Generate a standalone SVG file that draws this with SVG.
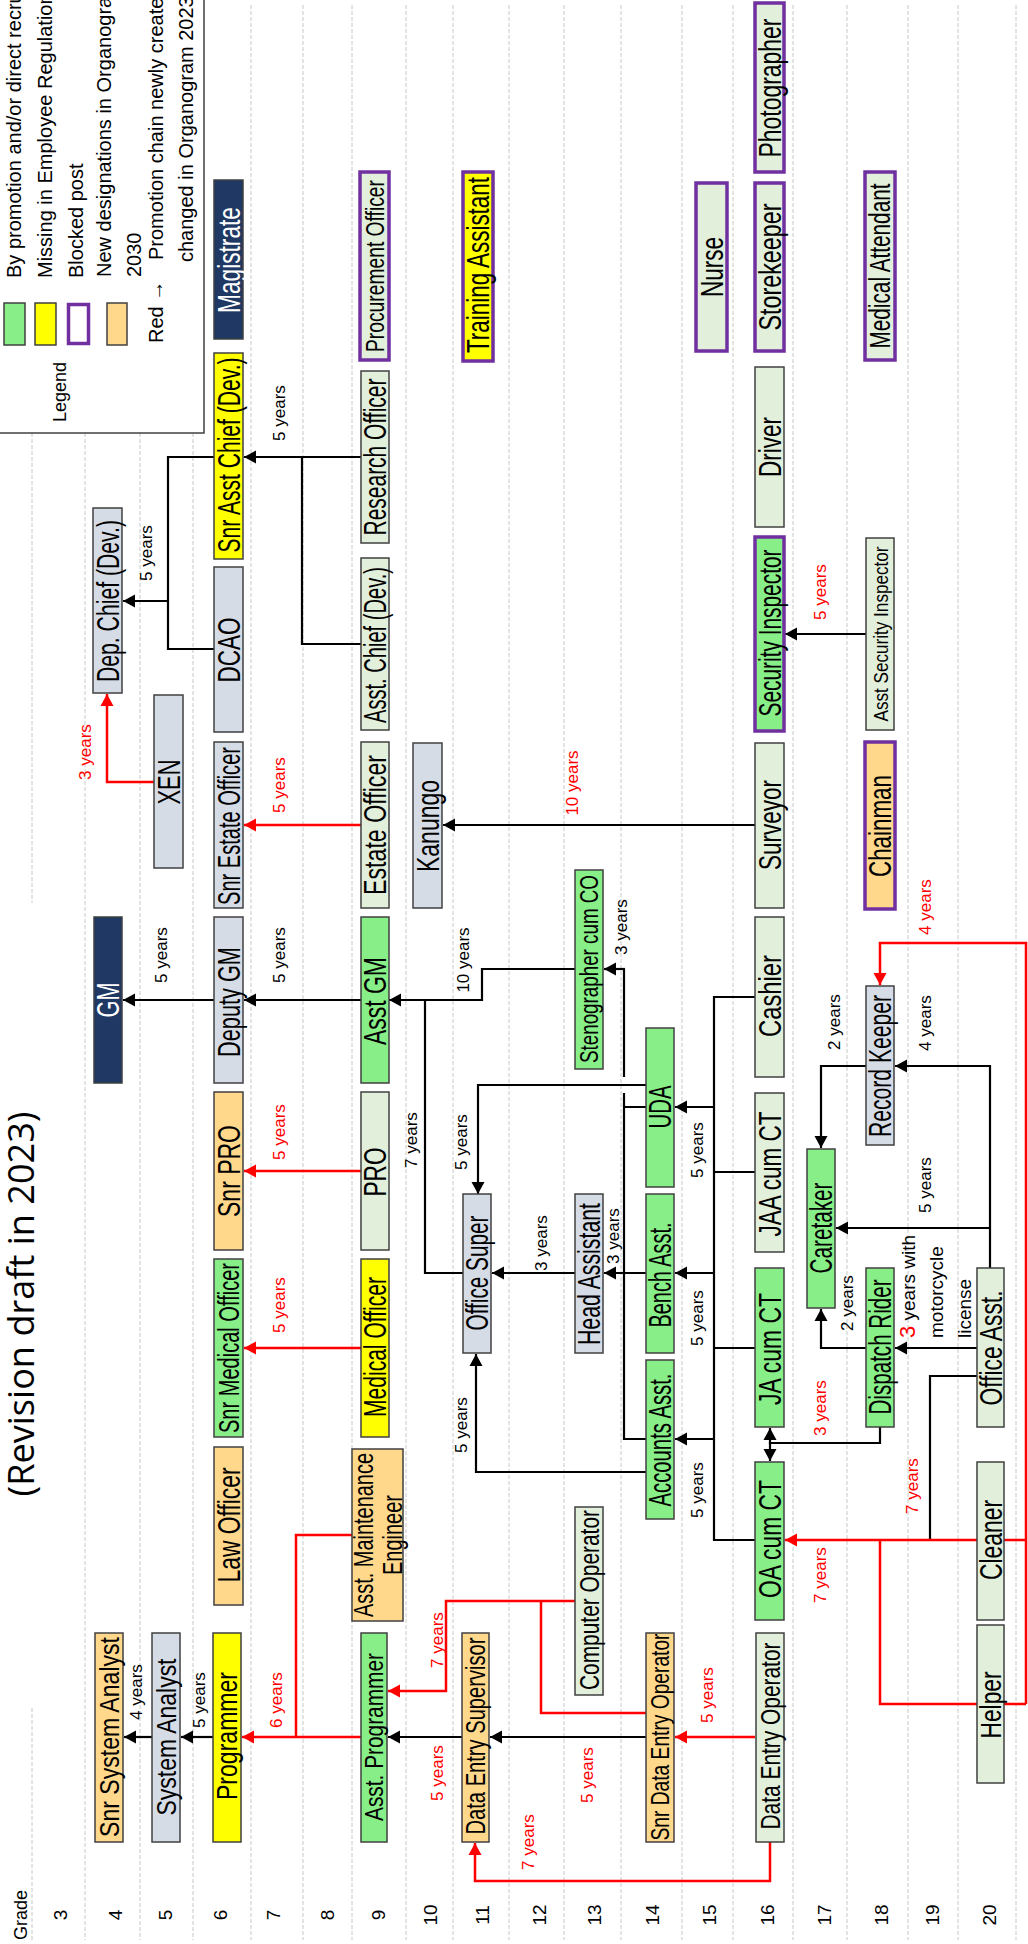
<svg xmlns="http://www.w3.org/2000/svg" width="1028" height="1944" viewBox="0 0 1028 1944">
<defs>
<marker id="ak" viewBox="0 0 12 13" refX="12" refY="6.5" markerWidth="12.5" markerHeight="13.5" markerUnits="userSpaceOnUse" orient="auto"><path d="M0,0 L12,6.5 L0,13 z" fill="#000"/></marker>
<marker id="ar" viewBox="0 0 12 13" refX="12" refY="6.5" markerWidth="12.5" markerHeight="13.5" markerUnits="userSpaceOnUse" orient="auto"><path d="M0,0 L12,6.5 L0,13 z" fill="#f00"/></marker>
</defs>
<style>
.grid{stroke:#c8c8c8;stroke-width:1;stroke-dasharray:4 2;fill:none}
.box{stroke:#404040;stroke-width:1.5}
.pb{stroke:#7030A0;stroke-width:3.5}
.g{fill:#88EE88}.lg{fill:#E2EFDA}.bg{fill:#D6DCE5}.y{fill:#FFFF00}.o{fill:#FFD88C}.n{fill:#203864}
.t{font-family:'Liberation Sans',Arial,sans-serif;fill:#000}
.w{fill:#fff}
.k{stroke:#000;stroke-width:2.2;fill:none}
.r{stroke:#f00;stroke-width:2.5;fill:none}
.ka{marker-end:url(#ak)}
.ra{marker-end:url(#ar)}
.yl{font-family:'Liberation Sans',Arial,sans-serif;font-size:17px;text-anchor:middle;fill:#000}
.red{fill:#f00}
.lgt{font-family:'Liberation Sans',Arial,sans-serif;font-size:20px;fill:#000}
</style>
<rect x="0" y="0" width="1028" height="1944" fill="#fff"/>
<g id="grid">
<path class="grid" d="M32,433V903M32,1708V1940M85,433V1940M140,433V1940M193,433V1940M251,5V1940M303,5V1940M352,5V1940M406,5V1940M453,5V1940M509,5V1940M564,5V1940M621,5V1940M682,5V1940M733,5V1940M793,5V1940M847,5V1940M908,5V1940M958,5V1940M1016,5V1940"/>
</g>
<g id="title">
<text class="t" style="font-family:'Open Sans',sans-serif" font-size="36" textLength="385" lengthAdjust="spacingAndGlyphs" x="-192.5" transform="translate(34,1304) rotate(-90)">(Revision draft in 2023)</text>
</g>
<g id="grades" class="t" font-size="19">
<text x="-25" transform="translate(27,1915) rotate(-90)" textLength="50" lengthAdjust="spacingAndGlyphs">Grade</text>
<g text-anchor="middle">
<text transform="translate(67,1915) rotate(-90)">3</text>
<text transform="translate(122,1915) rotate(-90)">4</text>
<text transform="translate(172,1915) rotate(-90)">5</text>
<text transform="translate(227,1915) rotate(-90)">6</text>
<text transform="translate(280,1915) rotate(-90)">7</text>
<text transform="translate(334,1915) rotate(-90)">8</text>
<text transform="translate(385,1915) rotate(-90)">9</text>
<text transform="translate(437,1915) rotate(-90)">10</text>
<text transform="translate(489,1915) rotate(-90)">11</text>
<text transform="translate(546,1915) rotate(-90)">12</text>
<text transform="translate(601,1915) rotate(-90)">13</text>
<text transform="translate(659,1915) rotate(-90)">14</text>
<text transform="translate(716,1915) rotate(-90)">15</text>
<text transform="translate(774,1915) rotate(-90)">16</text>
<text transform="translate(831,1915) rotate(-90)">17</text>
<text transform="translate(888,1915) rotate(-90)">18</text>
<text transform="translate(939,1915) rotate(-90)">19</text>
<text transform="translate(996,1915) rotate(-90)">20</text>
</g>
</g>
<g id="legend">
<rect x="-5" y="-5" width="209" height="438" fill="#fff" stroke="#404040" stroke-width="1.5"/>
<rect class="box g" x="4" y="303" width="21" height="42"/>
<rect class="box y" x="35" y="303" width="21" height="42"/>
<rect x="68.5" y="304.5" width="20" height="39" fill="#fff" stroke="#7030A0" stroke-width="3.5"/>
<rect class="box o" x="107" y="303" width="20" height="42"/>
<text class="lgt" transform="translate(21,278) rotate(-90)">By promotion and/or direct recruitment</text>
<text class="lgt" transform="translate(52,278) rotate(-90)">Missing in Employee Regulations</text>
<text class="lgt" transform="translate(82.5,278) rotate(-90)">Blocked post</text>
<text class="lgt" transform="translate(111,277) rotate(-90)">New designations in Organogram</text>
<text class="lgt" transform="translate(141,277) rotate(-90)">2030</text>
<text class="lgt red" transform="translate(163,343) rotate(-90)">Red →</text>
<text class="lgt" transform="translate(163,260) rotate(-90)">Promotion chain newly created</text>
<text class="lgt" transform="translate(193,262) rotate(-90)">changed in Organogram 2023</text>
<text class="t" font-size="18" text-anchor="middle" transform="translate(66,392) rotate(-90)">Legend</text>
</g>
<g id="connectors">
<path class="k" d="M214,457H168V649H214"/>
<path class="k ka" d="M168,601H123"/>
<path class="k ka" d="M361,457H244"/>
<path class="k" d="M302,457V644H361"/>
<path class="k ka" d="M755,825H443"/>
<path class="k ka" d="M866,634H785"/>
<path class="k ka" d="M214,1000H123"/>
<path class="k ka" d="M361,1000H244"/>
<path class="k ka" d="M575,969H482V1000H389"/>
<path class="k" d="M463,1273H425V1000"/>
<path class="k ka" d="M646,1085H478V1194"/>
<path class="k ka" d="M575,1273H492"/>
<path class="k ka" d="M646,1273H604"/>
<path class="k ka" d="M646,1472H476V1354"/>
<path class="k" d="M646,1107H624M646,1439H624V1093M624,1077V969"/>
<path class="k ka" d="M625,969H604"/>
<path class="k" d="M755,997H714V1540H755M755,1172H714M755,1348H714"/>
<path class="k ka" d="M714,1107H675"/>
<path class="k ka" d="M714,1273H675"/>
<path class="k ka" d="M714,1439H675"/>
<path class="k ka" d="M866,1066H821V1148"/>
<path class="k ka" d="M990,1268V1066H895"/>
<path class="k ka" d="M990,1228H836"/>
<path class="k ka" d="M866,1348H821V1309"/>
<path class="k ka" d="M977,1348H895"/>
<path class="k" d="M977,1376H930V1540"/>
<path class="k" d="M880,1427V1443H770"/>
<path class="k ka" d="M770,1444V1428"/>
<path class="k ka" d="M770,1442V1461"/>
<path class="k ka" d="M646,1737H490"/>
<path class="k ka" d="M462,1737H388"/>
<path class="k ka" d="M213,1737H181"/>
<path class="k ka" d="M152,1737H124"/>
<path class="r ra" d="M154,782H107V694"/>
<path class="r ra" d="M361,825H244"/>
<path class="r ra" d="M361,1171H244"/>
<path class="r ra" d="M361,1348H244"/>
<path class="r" d="M352,1535H296V1737"/>
<path class="r ra" d="M361,1737H242"/>
<path class="r ra" d="M575,1601H446V1691H388"/>
<path class="r" d="M646,1713H541V1601"/>
<path class="r ra" d="M755,1737H675"/>
<path class="r ra" d="M770,1842V1881H475V1843"/>
<path class="r ra" d="M977,1540H785"/>
<path class="r" d="M977,1704H880V1540"/>
<path class="r" d="M1004,1540H1026M1004,1704H1026"/>
<path class="r ra" d="M1026,1704V943H880V985"/>
</g>
<g id="connector-labels">
<text class="yl" transform="translate(152.3,553) rotate(-90)">5 years</text>
<text class="yl" transform="translate(285.3,413) rotate(-90)">5 years</text>
<text class="yl" transform="translate(167.3,955) rotate(-90)">5 years</text>
<text class="yl" transform="translate(285.3,955) rotate(-90)">5 years</text>
<text class="yl" transform="translate(467.3,1142) rotate(-90)">5 years</text>
<text class="yl" transform="translate(467.3,1425) rotate(-90)">5 years</text>
<text class="yl" transform="translate(703.3,1150) rotate(-90)">5 years</text>
<text class="yl" transform="translate(703.3,1318) rotate(-90)">5 years</text>
<text class="yl" transform="translate(703.3,1490) rotate(-90)">5 years</text>
<text class="yl" transform="translate(931.3,1185) rotate(-90)">5 years</text>
<text class="yl" transform="translate(417.3,1140) rotate(-90)">7 years</text>
<text class="yl" transform="translate(469.3,960) rotate(-90)">10 years</text>
<text class="yl" transform="translate(547.3,1243) rotate(-90)">3 years</text>
<text class="yl" transform="translate(619.3,1236) rotate(-90)">3 years</text>
<text class="yl" transform="translate(627.3,927) rotate(-90)">3 years</text>
<text class="yl" transform="translate(840.3,1022) rotate(-90)">2 years</text>
<text class="yl" transform="translate(931.3,1023) rotate(-90)">4 years</text>
<text class="yl" transform="translate(853.3,1303) rotate(-90)">2 years</text>
<text class="yl" transform="translate(142.3,1692) rotate(-90)">4 years</text>
<text class="yl" transform="translate(205.3,1700) rotate(-90)">5 years</text>
<text class="yl red" transform="translate(91.3,752) rotate(-90)">3 years</text>
<text class="yl red" transform="translate(285.3,785) rotate(-90)">5 years</text>
<text class="yl red" transform="translate(578.3,783) rotate(-90)">10 years</text>
<text class="yl red" transform="translate(826.3,592) rotate(-90)">5 years</text>
<text class="yl red" transform="translate(931.3,907) rotate(-90)">4 years</text>
<text class="yl red" transform="translate(285.3,1132) rotate(-90)">5 years</text>
<text class="yl red" transform="translate(285.3,1305) rotate(-90)">5 years</text>
<text class="yl red" transform="translate(826.3,1408) rotate(-90)">3 years</text>
<text class="yl red" transform="translate(918.3,1486) rotate(-90)">7 years</text>
<text class="yl red" transform="translate(826.3,1575) rotate(-90)">7 years</text>
<text class="yl red" transform="translate(282.3,1700) rotate(-90)">6 years</text>
<text class="yl red" transform="translate(443.3,1640) rotate(-90)">7 years</text>
<text class="yl red" transform="translate(443.3,1773) rotate(-90)">5 years</text>
<text class="yl red" transform="translate(593.3,1775) rotate(-90)">5 years</text>
<text class="yl red" transform="translate(713.3,1695) rotate(-90)">5 years</text>
<text class="yl red" transform="translate(534.3,1842) rotate(-90)">7 years</text>
<text class="t" font-size="19" transform="translate(915,1338) rotate(-90)"><tspan fill="#f00" font-size="22">3</tspan> years with</text>
<text class="t" font-size="19" transform="translate(943,1338) rotate(-90)">motorcycle</text>
<text class="t" font-size="19" transform="translate(971,1338) rotate(-90)">license</text>
</g>
<g id="nodes" class="t">
<g id="snr-system-analyst"><rect class="box o" x="95" y="1633" width="28" height="209"/><text font-size="27" x="-100" textLength="200" lengthAdjust="spacingAndGlyphs" transform="translate(118.7,1737) rotate(-90)">Snr System Analyst</text></g>
<g id="system-analyst"><rect class="box bg" x="152" y="1633" width="28" height="209"/><text font-size="27" x="-78.5" textLength="157" lengthAdjust="spacingAndGlyphs" transform="translate(175.7,1737) rotate(-90)">System Analyst</text></g>
<g id="programmer"><rect class="box y" x="213" y="1633" width="28" height="209"/><text font-size="29" x="-64" textLength="128" lengthAdjust="spacingAndGlyphs" transform="translate(237.4,1736) rotate(-90)">Programmer</text></g>
<g id="asst-programmer"><rect class="box g" x="361" y="1633" width="26" height="209"/><text font-size="26" x="-84" textLength="168" lengthAdjust="spacingAndGlyphs" transform="translate(383.3,1737) rotate(-90)">Asst. Programmer</text></g>
<g id="data-entry-supervisor"><rect class="box o" x="462" y="1633" width="27" height="209"/><text font-size="27" x="-98.5" textLength="197" lengthAdjust="spacingAndGlyphs" transform="translate(485.2,1736) rotate(-90)">Data Entry Supervisor</text></g>
<g id="snr-data-entry-operator"><rect class="box o" x="646" y="1633" width="28" height="209"/><text font-size="26" x="-103.5" textLength="207" lengthAdjust="spacingAndGlyphs" transform="translate(669.3,1737) rotate(-90)">Snr Data Entry Operator</text></g>
<g id="data-entry-operator"><rect class="box lg" x="756" y="1633" width="28" height="209"/><text font-size="27" x="-93.5" textLength="187" lengthAdjust="spacingAndGlyphs" transform="translate(779.7,1736) rotate(-90)">Data Entry Operator</text></g>
<g id="helper"><rect class="box lg" x="977" y="1625" width="27" height="158"/><text font-size="30" x="-33.5" textLength="67" lengthAdjust="spacingAndGlyphs" transform="translate(1001.2,1705) rotate(-90)">Helper</text></g>
<g id="computer-operator"><rect class="box lg" x="575" y="1507" width="28" height="188"/><text font-size="27" x="-90" textLength="180" lengthAdjust="spacingAndGlyphs" transform="translate(598.7,1600) rotate(-90)">Computer Operator</text></g>
<g id="law-officer"><rect class="box o" x="214" y="1447" width="29" height="158"/><text font-size="31" x="-57.5" textLength="115" lengthAdjust="spacingAndGlyphs" transform="translate(239.6,1525) rotate(-90)">Law Officer</text></g>
<g id="asst-maintenance-engineer"><rect class="box o" x="352" y="1449" width="51" height="172"/><text font-size="28" x="-82" textLength="164" lengthAdjust="spacingAndGlyphs" transform="translate(373,1535) rotate(-90)">Asst. Maintenance</text><text font-size="28" x="-40" textLength="80" lengthAdjust="spacingAndGlyphs" transform="translate(402,1535) rotate(-90)">Engineer</text></g>
<g id="snr-medical-officer"><rect class="box g" x="214" y="1259" width="29" height="178"/><text font-size="30" x="-85" textLength="170" lengthAdjust="spacingAndGlyphs" transform="translate(239.2,1348) rotate(-90)">Snr Medical Officer</text></g>
<g id="medical-officer"><rect class="box y" x="361" y="1259" width="28" height="178"/><text font-size="31" x="-70" textLength="140" lengthAdjust="spacingAndGlyphs" transform="translate(386.1,1347) rotate(-90)">Medical Officer</text></g>
<g id="snr-pro"><rect class="box o" x="214" y="1092" width="29" height="158"/><text font-size="31" x="-46" textLength="92" lengthAdjust="spacingAndGlyphs" transform="translate(239.6,1171) rotate(-90)">Snr PRO</text></g>
<g id="pro"><rect class="box lg" x="361" y="1092" width="28" height="158"/><text font-size="31" x="-24.5" textLength="49" lengthAdjust="spacingAndGlyphs" transform="translate(386.1,1172) rotate(-90)">PRO</text></g>
<g id="gm"><rect class="box n" x="94" y="917" width="28" height="166"/><text class="w" font-size="31" x="-17.5" textLength="35" lengthAdjust="spacingAndGlyphs" transform="translate(119.1,1000) rotate(-90)">GM</text></g>
<g id="deputy-gm"><rect class="box bg" x="214" y="917" width="29" height="166"/><text font-size="31" x="-55" textLength="110" lengthAdjust="spacingAndGlyphs" transform="translate(239.6,1002) rotate(-90)">Deputy GM</text></g>
<g id="asst-gm"><rect class="box g" x="361" y="917" width="28" height="166"/><text font-size="31" x="-44" textLength="88" lengthAdjust="spacingAndGlyphs" transform="translate(386.1,1001) rotate(-90)">Asst GM</text></g>
<g id="snr-estate-officer"><rect class="box bg" x="214" y="742" width="29" height="166"/><text font-size="31" x="-79" textLength="158" lengthAdjust="spacingAndGlyphs" transform="translate(239.6,826) rotate(-90)">Snr Estate Officer</text></g>
<g id="estate-officer"><rect class="box lg" x="361" y="742" width="28" height="166"/><text font-size="31" x="-70" textLength="140" lengthAdjust="spacingAndGlyphs" transform="translate(386.1,825) rotate(-90)">Estate Officer</text></g>
<g id="kanungo"><rect class="box bg" x="413" y="743" width="29" height="165"/><text font-size="31" x="-46" textLength="92" lengthAdjust="spacingAndGlyphs" transform="translate(438.6,826) rotate(-90)">Kanungo</text></g>
<g id="xen"><rect class="box bg" x="154" y="695" width="29" height="173"/><text font-size="31" x="-22.5" textLength="45" lengthAdjust="spacingAndGlyphs" transform="translate(179.6,782) rotate(-90)">XEN</text></g>
<g id="dep-chief-dev"><rect class="box bg" x="93" y="508" width="29" height="185"/><text font-size="31" x="-81" textLength="162" lengthAdjust="spacingAndGlyphs" transform="translate(118.6,601) rotate(-90)">Dep. Chief (Dev.)</text></g>
<g id="dcao"><rect class="box bg" x="214" y="567" width="29" height="165"/><text font-size="31" x="-32.5" textLength="65" lengthAdjust="spacingAndGlyphs" transform="translate(239.6,650) rotate(-90)">DCAO</text></g>
<g id="asst-chief-dev"><rect class="box lg" x="361" y="558" width="28" height="172"/><text font-size="31" x="-78" textLength="156" lengthAdjust="spacingAndGlyphs" transform="translate(386.1,645) rotate(-90)">Asst. Chief (Dev.)</text></g>
<g id="snr-asst-chief-dev"><rect class="box y" x="214" y="353" width="29" height="206"/><text font-size="31" x="-97.5" textLength="195" lengthAdjust="spacingAndGlyphs" transform="translate(239.6,455) rotate(-90)">Snr Asst Chief (Dev.)</text></g>
<g id="research-officer"><rect class="box lg" x="361" y="371" width="28" height="172"/><text font-size="31" x="-78.5" textLength="157" lengthAdjust="spacingAndGlyphs" transform="translate(386.1,457) rotate(-90)">Research Officer</text></g>
<g id="magistrate"><rect class="box n" x="214" y="180" width="29" height="159"/><text class="w" font-size="31" x="-53" textLength="106" lengthAdjust="spacingAndGlyphs" transform="translate(239.6,260) rotate(-90)">Magistrate</text></g>
<g id="procurement-officer"><rect class="pb lg" x="360" y="172" width="29" height="188"/><text font-size="25" x="-86" textLength="172" lengthAdjust="spacingAndGlyphs" transform="translate(383.5,266) rotate(-90)">Procurement Officer</text></g>
<g id="training-assistant"><rect class="pb y" x="463" y="172" width="30" height="189"/><text font-size="31" x="-88" textLength="176" lengthAdjust="spacingAndGlyphs" transform="translate(489.1,265) rotate(-90)">Training Assistant</text></g>
<g id="photographer"><rect class="pb lg" x="755" y="3" width="29" height="169"/><text font-size="31" x="-69.5" textLength="139" lengthAdjust="spacingAndGlyphs" transform="translate(780.6,88) rotate(-90)">Photographer</text></g>
<g id="nurse"><rect class="pb lg" x="696" y="183" width="31" height="168"/><text font-size="31" x="-30" textLength="60" lengthAdjust="spacingAndGlyphs" transform="translate(722.6,267) rotate(-90)">Nurse</text></g>
<g id="storekeeper"><rect class="pb lg" x="755" y="183" width="29" height="168"/><text font-size="31" x="-63.5" textLength="127" lengthAdjust="spacingAndGlyphs" transform="translate(780.6,267) rotate(-90)">Storekeeper</text></g>
<g id="medical-attendant"><rect class="pb lg" x="865" y="172" width="30" height="188"/><text font-size="29" x="-82.5" textLength="165" lengthAdjust="spacingAndGlyphs" transform="translate(890.4,266) rotate(-90)">Medical Attendant</text></g>
<g id="driver"><rect class="box lg" x="755" y="367" width="29" height="160"/><text font-size="31" x="-30" textLength="60" lengthAdjust="spacingAndGlyphs" transform="translate(780.6,447) rotate(-90)">Driver</text></g>
<g id="security-inspector"><rect class="pb g" x="755" y="537" width="29" height="194"/><text font-size="31" x="-83.5" textLength="167" lengthAdjust="spacingAndGlyphs" transform="translate(780.6,633) rotate(-90)">Security Inspector</text></g>
<g id="asst-security-inspector"><rect class="box lg" x="866" y="538" width="28" height="192"/><text font-size="21" x="-87.5" textLength="175" lengthAdjust="spacingAndGlyphs" transform="translate(887.5,634) rotate(-90)">Asst Security Inspector</text></g>
<g id="surveyor"><rect class="box lg" x="755" y="743" width="29" height="165"/><text font-size="31" x="-45" textLength="90" lengthAdjust="spacingAndGlyphs" transform="translate(780.6,825) rotate(-90)">Surveyor</text></g>
<g id="chainman"><rect class="pb o" x="865" y="742" width="30" height="167"/><text font-size="31" x="-51" textLength="102" lengthAdjust="spacingAndGlyphs" transform="translate(891.1,826) rotate(-90)">Chainman</text></g>
<g id="stenographer-cum-co"><rect class="box g" x="575" y="870" width="28" height="199"/><text font-size="26" x="-94" textLength="188" lengthAdjust="spacingAndGlyphs" transform="translate(598.3,969) rotate(-90)">Stenographer cum CO</text></g>
<g id="cashier"><rect class="box lg" x="755" y="917" width="29" height="160"/><text font-size="31" x="-41" textLength="82" lengthAdjust="spacingAndGlyphs" transform="translate(780.6,996) rotate(-90)">Cashier</text></g>
<g id="uda"><rect class="box g" x="646" y="1028" width="28" height="159"/><text font-size="31" x="-21.5" textLength="43" lengthAdjust="spacingAndGlyphs" transform="translate(671.1,1107) rotate(-90)">UDA</text></g>
<g id="jaa-cum-ct"><rect class="box lg" x="755" y="1093" width="29" height="159"/><text font-size="31" x="-62.5" textLength="125" lengthAdjust="spacingAndGlyphs" transform="translate(780.6,1174) rotate(-90)">JAA cum CT</text></g>
<g id="record-keeper"><rect class="box bg" x="866" y="986" width="28" height="159"/><text font-size="31" x="-71" textLength="142" lengthAdjust="spacingAndGlyphs" transform="translate(891.1,1066) rotate(-90)">Record Keeper</text></g>
<g id="caretaker"><rect class="box g" x="807" y="1149" width="28" height="159"/><text font-size="31" x="-45.5" textLength="91" lengthAdjust="spacingAndGlyphs" transform="translate(832.1,1228) rotate(-90)">Caretaker</text></g>
<g id="head-assistant"><rect class="box bg" x="575" y="1194" width="28" height="159"/><text font-size="31" x="-71" textLength="142" lengthAdjust="spacingAndGlyphs" transform="translate(600.1,1274) rotate(-90)">Head Assistant</text></g>
<g id="bench-asst"><rect class="box g" x="646" y="1194" width="28" height="159"/><text font-size="31" x="-52.5" textLength="105" lengthAdjust="spacingAndGlyphs" transform="translate(671.1,1275) rotate(-90)">Bench Asst.</text></g>
<g id="ja-cum-ct"><rect class="box g" x="755" y="1268" width="29" height="159"/><text font-size="31" x="-56" textLength="112" lengthAdjust="spacingAndGlyphs" transform="translate(780.6,1349) rotate(-90)">JA cum CT</text></g>
<g id="dispatch-rider"><rect class="box g" x="866" y="1268" width="28" height="159"/><text font-size="31" x="-67.5" textLength="135" lengthAdjust="spacingAndGlyphs" transform="translate(891.1,1347) rotate(-90)">Dispatch Rider</text></g>
<g id="office-asst"><rect class="box lg" x="977" y="1268" width="27" height="159"/><text font-size="31" x="-57.5" textLength="115" lengthAdjust="spacingAndGlyphs" transform="translate(1001.6,1348) rotate(-90)">Office Asst.</text></g>
<g id="office-super"><rect class="box bg" x="463" y="1194" width="28" height="159"/><text font-size="31" x="-57.5" textLength="115" lengthAdjust="spacingAndGlyphs" transform="translate(488.1,1273) rotate(-90)">Office Super</text></g>
<g id="accounts-asst"><rect class="box g" x="646" y="1360" width="28" height="159"/><text font-size="31" x="-66.5" textLength="133" lengthAdjust="spacingAndGlyphs" transform="translate(671.1,1440) rotate(-90)">Accounts Asst.</text></g>
<g id="oa-cum-ct"><rect class="box g" x="755" y="1462" width="29" height="158"/><text font-size="31" x="-59" textLength="118" lengthAdjust="spacingAndGlyphs" transform="translate(780.6,1539) rotate(-90)">OA cum CT</text></g>
<g id="cleaner"><rect class="box lg" x="977" y="1462" width="27" height="158"/><text font-size="31" x="-40" textLength="80" lengthAdjust="spacingAndGlyphs" transform="translate(1001.6,1540) rotate(-90)">Cleaner</text></g>
</g>
</svg>
